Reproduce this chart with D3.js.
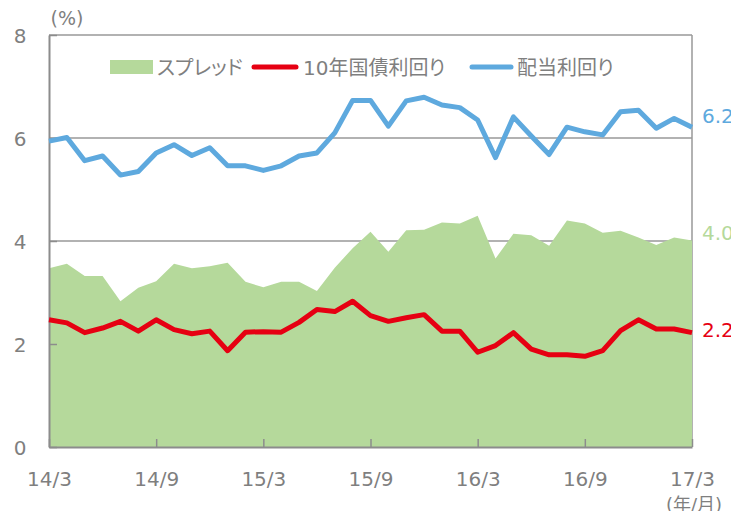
<!DOCTYPE html>
<html><head><meta charset="utf-8">
<script src="https://cdn.jsdelivr.net/npm/d3@7"></script>
<style>
html,body{margin:0;padding:0;background:#fff;}
svg{display:block;font-family:"DejaVu Sans","Noto Sans CJK JP",sans-serif;}
</style></head>
<body>
<svg id="chart" width="731" height="511"></svg>
<script>
const months = ["14/3","14/4","14/5","14/6","14/7","14/8","14/9","14/10","14/11","14/12","15/1","15/2",
  "15/3","15/4","15/5","15/6","15/7","15/8","15/9","15/10","15/11","15/12","16/1","16/2",
  "16/3","16/4","16/5","16/6","16/7","16/8","16/9","16/10","16/11","16/12","17/1","17/2","17/3"];
const dividendYield = [5.94,6.01,5.56,5.65,5.28,5.35,5.71,5.87,5.66,5.81,5.46,5.46,
  5.37,5.46,5.65,5.71,6.10,6.73,6.73,6.23,6.72,6.79,6.64,6.59,
  6.35,5.62,6.41,6.04,5.68,6.21,6.12,6.06,6.51,6.54,6.19,6.38,6.21];
const bondYield = [2.47,2.41,2.22,2.31,2.44,2.25,2.47,2.28,2.20,2.25,1.87,2.23,
  2.24,2.23,2.42,2.67,2.63,2.83,2.55,2.44,2.51,2.57,2.25,2.25,
  1.84,1.97,2.22,1.90,1.79,1.79,1.76,1.87,2.26,2.47,2.29,2.29,2.22];
const spread = [3.47,3.56,3.32,3.32,2.83,3.09,3.22,3.56,3.47,3.51,3.58,3.21,
  3.10,3.21,3.21,3.03,3.48,3.86,4.18,3.79,4.21,4.22,4.36,4.34,
  4.49,3.66,4.14,4.11,3.91,4.40,4.34,4.16,4.20,4.07,3.92,4.07,4.01];
const yTicks = [0,2,4,6,8];
const xTickLabels = ["14/3","14/9","15/3","15/9","16/3","16/9","17/3"];
const seriesNames = ["スプレッド","10年国債利回り","配当利回り"];
const lastLabels = ["4.0","2.2","6.2"];

const C_GREEN = "#b5d99b", C_RED = "#e60012", C_BLUE = "#5ea9de", C_GREY = "#7f7f7f", C_AXIS = "#8c8c8c";
const L = 49, R = 692, T = 35, B = 447;
const svg = d3.select("#chart");
const x = d3.scalePoint().domain(months).range([L, R]);
const y = d3.scaleLinear().domain([0, 8]).range([B, T]);

// gridlines
svg.append("g").selectAll("line").data(yTicks.filter(d => d > 0)).join("line")
  .attr("x1", L).attr("x2", R).attr("y1", d => y(d)).attr("y2", d => y(d))
  .attr("stroke", "#999").attr("stroke-width", 1.5);
// right border
svg.append("line").attr("x1", R).attr("x2", R).attr("y1", y(8)).attr("y2", B)
  .attr("stroke", "#999").attr("stroke-width", 1.5);

// area (spread)
const area = d3.area().x((d, i) => x(months[i])).y0(y(0)).y1(d => y(d));
svg.append("path").datum(spread).attr("d", area).attr("fill", C_GREEN);

// axes
const yAxis = svg.append("g").attr("transform", `translate(${L},0)`)
  .call(d3.axisLeft(y).tickValues(yTicks).tickSize(-8).tickSizeOuter(0).tickPadding(22).tickFormat(d3.format("d")));
yAxis.select(".domain").attr("stroke", C_AXIS).attr("stroke-width", 2);
yAxis.selectAll(".tick line").attr("stroke", C_AXIS).attr("stroke-width", 1.5);
yAxis.selectAll(".tick text").attr("fill", C_GREY).attr("font-size", 20).attr("font-family", "DejaVu Sans")
  .attr("text-anchor", "middle").attr("x", -29).attr("dy", "0.36em");

const xAxis = svg.append("g").attr("transform", `translate(0,${B})`)
  .call(d3.axisBottom(x).tickValues(xTickLabels).tickSize(-8).tickSizeOuter(0).tickPadding(20));
xAxis.select(".domain").attr("stroke", C_AXIS).attr("stroke-width", 2);
xAxis.selectAll(".tick line").attr("stroke", C_AXIS).attr("stroke-width", 1.5);
xAxis.selectAll(".tick text").attr("fill", C_GREY).attr("font-size", 20).attr("font-family", "DejaVu Sans")
  .attr("y", 39).attr("dy", 0);

// lines
const line = d3.line().x((d, i) => x(months[i])).y(d => y(d));
svg.append("path").datum(bondYield).attr("d", line).attr("fill", "none")
  .attr("stroke", C_RED).attr("stroke-width", 5).attr("stroke-linejoin", "round");
svg.append("path").datum(dividendYield).attr("d", line).attr("fill", "none")
  .attr("stroke", C_BLUE).attr("stroke-width", 5).attr("stroke-linejoin", "round");

// end labels
const lastIdx = months.length - 1;
const endData = [
  {v: spread[lastIdx], t: lastLabels[0], c: C_GREEN, dy: -8},
  {v: bondYield[lastIdx], t: lastLabels[1], c: C_RED, dy: -3},
  {v: dividendYield[lastIdx], t: lastLabels[2], c: C_BLUE, dy: -11}
];
svg.append("g").selectAll("text").data(endData).join("text")
  .attr("x", 702).attr("y", d => y(d.v) + d.dy).attr("dy", "0.36em")
  .attr("fill", d => d.c).attr("font-size", 20).attr("font-family", "DejaVu Sans").text(d => d.t);

// unit labels
svg.append("text").attr("x", 67).attr("y", 25).attr("text-anchor", "middle")
  .attr("fill", C_GREY).attr("font-size", 19).text("(%)");
svg.append("text").attr("x", 694).attr("y", 511).attr("text-anchor", "middle")
  .attr("fill", C_GREY).attr("font-size", 18).text("(年/月)");

// legend
const lg = svg.append("g").attr("font-size", 20).attr("fill", C_GREY)
  .style("font-feature-settings", "'palt'");
lg.append("rect").attr("x", 110).attr("y", 60).attr("width", 43).attr("height", 14).attr("fill", C_GREEN);
lg.append("text").attr("x", 157).attr("y", 68).attr("dy", "0.36em").text(seriesNames[0]);
lg.append("line").attr("x1", 254).attr("x2", 296).attr("y1", 67).attr("y2", 67)
  .attr("stroke", C_RED).attr("stroke-width", 5).attr("stroke-linecap", "round");
lg.append("text").attr("x", 303).attr("y", 68).attr("dy", "0.36em").text(seriesNames[1]);
lg.append("line").attr("x1", 472).attr("x2", 511).attr("y1", 67).attr("y2", 67)
  .attr("stroke", C_BLUE).attr("stroke-width", 5).attr("stroke-linecap", "round");
lg.append("text").attr("x", 517).attr("y", 68).attr("dy", "0.36em").text(seriesNames[2]);
</script>
</body></html>
